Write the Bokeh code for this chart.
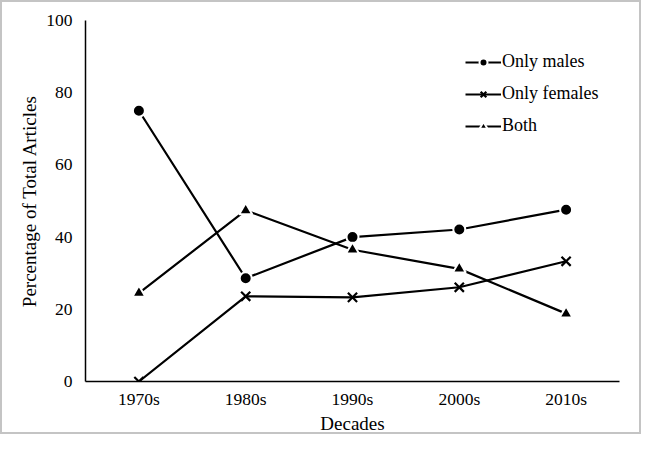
from bokeh.plotting import figure
from bokeh.embed import file_html
from bokeh.resources import INLINE
from bokeh.models import Legend, LegendItem, Range1d

decades = ["1970s", "1980s", "1990s", "2000s", "2010s"]
only_males = [75.0, 28.6, 40.0, 42.1, 47.6]
only_females = [0.0, 23.6, 23.3, 26.1, 33.3]
both = [24.5, 47.4, 36.5, 31.2, 18.8]
y_ticks = [0, 20, 40, 60, 80, 100]

FONT = "Liberation Serif"

p = figure(x_range=decades, y_range=Range1d(0, 100), width=641, height=434,
           output_backend="svg", toolbar_location=None,
           min_border_left=83, min_border_right=24, min_border_top=18, min_border_bottom=53)
p.styles = {"border": "2px solid #c4c4c4", "box-sizing": "border-box"}
p.outline_line_color = None
p.xgrid.grid_line_color = None
p.ygrid.grid_line_color = None
p.x_range.range_padding = 0

for ax in (p.xaxis[0], p.yaxis[0]):
    ax.axis_line_color = "black"
    ax.axis_line_width = 1.5
    ax.major_tick_line_color = None
    ax.minor_tick_line_color = None
    ax.major_tick_out = 0
    ax.major_tick_in = 0
    ax.minor_tick_out = 0
    ax.minor_tick_in = 0
    ax.major_label_text_font = FONT
    ax.major_label_text_font_size = "17.5px"
    ax.major_label_text_color = "black"
    ax.axis_label_text_font = FONT
    ax.axis_label_text_font_size = "19px"
    ax.axis_label_text_font_style = "normal"
    ax.axis_label_text_color = "black"

p.yaxis.ticker = y_ticks
p.yaxis.major_label_standoff = 13
p.xaxis.major_label_standoff = 7
p.yaxis.axis_label = "Percentage of Total Articles"
p.xaxis.axis_label = "Decades"
p.yaxis.axis_label_standoff = 3
p.xaxis.axis_label_standoff = 1

items = []
series = [("Only males", only_males, "circle", 12),
          ("Only females", only_females, "x", 13),
          ("Both", both, "triangle", 13)]
for name, vals, marker, size in series:
    l = p.line(decades, vals, line_color="black", line_width=2.2)
    if marker == "x":
        s = p.scatter(decades, vals, marker="x", size=size, line_color="black", line_width=2.2)
    else:
        s = p.scatter(decades, vals, marker=marker, size=size, fill_color="black",
                      line_color="white", line_width=2)
    items.append(LegendItem(label=name, renderers=[l, s]))

legend = Legend(items=items)
legend.border_line_color = None
legend.background_fill_alpha = 0
legend.label_text_font = FONT
legend.label_text_font_size = "18px"
legend.label_text_color = "black"
legend.glyph_width = 36
legend.glyph_height = 20
legend.label_height = 20
legend.spacing = 11
legend.label_standoff = 1
legend.margin = 0
legend.padding = 0
legend.location = (380, 245)
p.add_layout(legend, "center")

open("out.html", "w").write(file_html(p, INLINE))
